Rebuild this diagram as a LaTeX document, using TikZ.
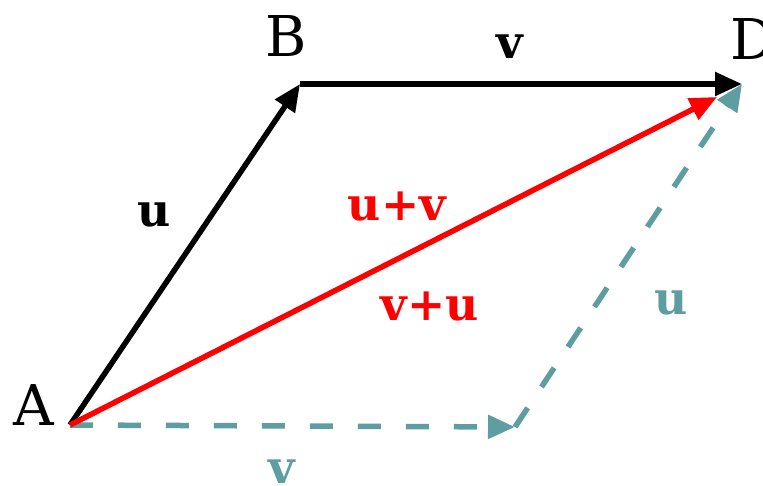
\documentclass[tikz,border=0pt]{standalone}
\usepackage{fontspec}
\setmainfont{DejaVu Serif}
\usetikzlibrary{arrows.meta}
\definecolor{vteal}{RGB}{95,158,160}
\tikzset{
  vec/.style={line width=5.5*0.02cm,-{Triangle[length=0.54cm,width=0.46cm]}},
  dvec/.style={vec,vteal,dash pattern=on 0.46cm off 0.5cm},
  punto/.style={font=\fontsize{32}{36}\selectfont,anchor=base},
  lab/.style={font=\fontsize{26}{30}\selectfont\bfseries}
}
\begin{document}
\begin{tikzpicture}[x=0.02cm,y=-0.02cm]
    \useasboundingbox (0,0) rectangle (763,486);
    % vertici del parallelogramma
    \coordinate (A) at (70,425);
    \coordinate (B) at (300,84);
    \coordinate (D) at (742,84);
    \coordinate (C) at (515,427);
    \coordinate (S) at (717,97);
    \draw[vec] (A) -- (B);
    \draw[vec] (B) -- (D);
    \draw[dvec] (A) -- (C);
    \draw[dvec] (C) -- (D);
    \draw[vec,red] (A) -- (S);
    \node[punto] (lA) at (34,425) {A};
    \node[punto] (lB) at (286,57) {B};
    \node[punto,anchor=base west] (lD) at (724,60) {D};
    \node[lab] (lu) at (154,215) {u};
    \node[lab] (lv) at (510,47) {v};
    \node[lab,red] (luv) at (397,207) {u+v};
    \node[lab,red] (lvu) at (430,307) {v+u};
    \node[lab,vteal] (lu2) at (671,303) {u};
    \node[lab,vteal] (lv2) at (282,472) {v};
  \end{tikzpicture}
\end{document}
